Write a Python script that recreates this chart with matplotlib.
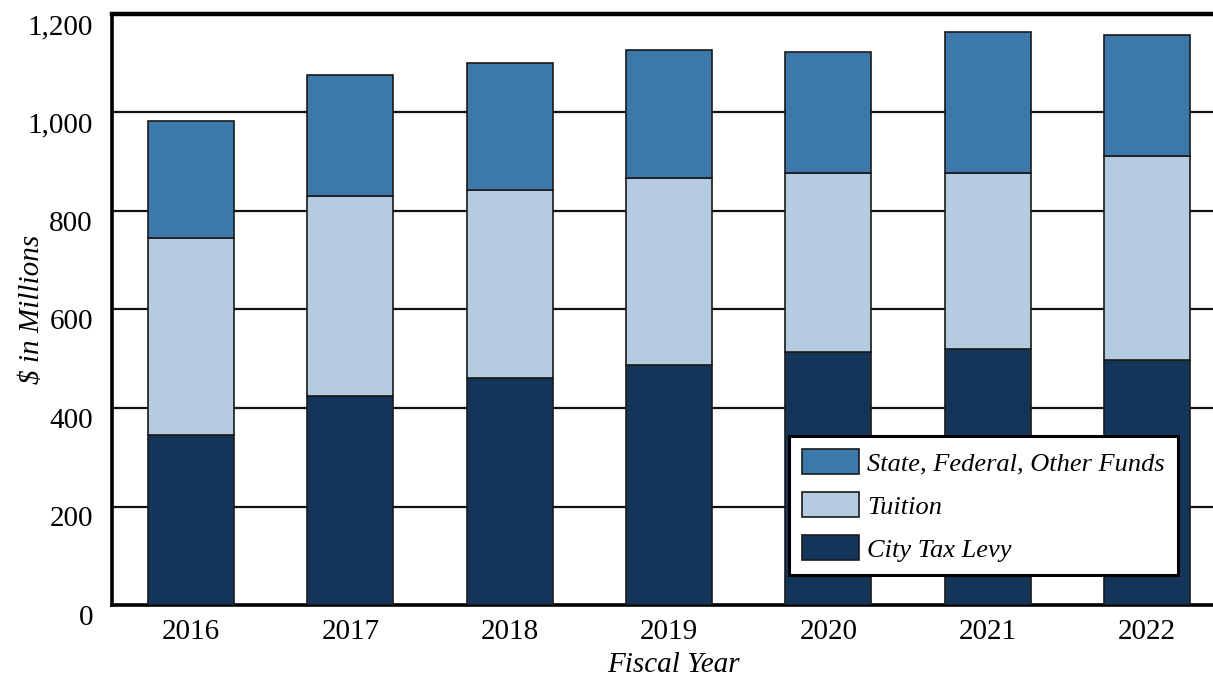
import matplotlib
matplotlib.use("Agg")
import matplotlib.pyplot as plt
import matplotlib.transforms as mtransforms
import numpy as np

years = ["2016", "2017", "2018", "2019", "2020", "2021", "2022"]
city_tax_levy = [345, 425, 460, 488, 513, 519, 497]
tuition = [401, 405, 383, 378, 365, 358, 414]
state_federal_other = [236, 247, 257, 261, 244, 286, 246]
yticks = [0, 200, 400, 600, 800, 1000, 1200]
ytick_labels = ["0", "200", "400", "600", "800", "1,000", "1,200"]

c_city = "#14355a"
c_tuition = "#b5cbdf"
c_other = "#3c78aa"
edge = "#1a1a1a"

plt.rcParams['font.family'] = ['Liberation Serif', 'DejaVu Serif']

fig = plt.figure(figsize=(12.13, 6.77), dpi=100)
ax = fig.add_axes([112/1213, 72/677, 1 - 112/1213 + 0.002, (605-14)/677])

x = np.arange(len(years))
w = 0.54
city = np.array(city_tax_levy)
tui = np.array(tuition)
oth = np.array(state_federal_other)

b1 = ax.bar(x, city, w, color=c_city, edgecolor=edge, linewidth=1.2, zorder=3, label="City Tax Levy")
b2 = ax.bar(x, tui, w, bottom=city, color=c_tuition, edgecolor=edge, linewidth=1.2, zorder=3, label="Tuition")
b3 = ax.bar(x, oth, w, bottom=city + tui, color=c_other, edgecolor=edge, linewidth=1.2, zorder=3,
            label="State, Federal, Other Funds")

ax.set_xlim(-0.497, 6.43)
ax.set_ylim(0, 1200)
ax.set_yticks(yticks)
ax.set_yticklabels(ytick_labels)
ax.set_xticks(x)
ax.set_xticklabels(years)
ax.tick_params(axis='both', length=0, labelsize=21, colors='black')
ax.tick_params(axis='y', pad=13.7)
ax.tick_params(axis='x', pad=10)

# shift y tick labels slightly down
offset = mtransforms.ScaledTranslation(0, -10/100, fig.dpi_scale_trans)
for lab in ax.get_yticklabels():
    lab.set_transform(lab.get_transform() + offset)

ax.yaxis.grid(True, color='#111111', linewidth=1.6, zorder=0)
ax.set_axisbelow(True)

for s in ['left', 'bottom', 'top']:
    ax.spines[s].set_linewidth(2.6)
    ax.spines[s].set_color('black')
ax.spines['top'].set_linewidth(3.2)
ax.spines['right'].set_visible(False)

ax.set_xlabel("Fiscal Year", fontsize=21, style='italic')
ax.xaxis.set_label_coords(0.509, -0.079)
ax.set_ylabel("$ in Millions", fontsize=21, style='italic')
ax.yaxis.set_label_coords(-0.061, 0.5)

leg = ax.legend(handles=[b3, b2, b1], loc='lower right', bbox_to_anchor=(0.966, 0.051),
                prop={'style': 'italic', 'size': 19}, frameon=True, fancybox=False,
                framealpha=1, edgecolor='black', borderpad=0.5, labelspacing=0.62,
                handlelength=2.16, handleheight=1.1, handletextpad=0.3, borderaxespad=0)
leg.get_frame().set_linewidth(2.2)
leg.set_zorder(5)

fig.savefig("out.png", dpi=100)
